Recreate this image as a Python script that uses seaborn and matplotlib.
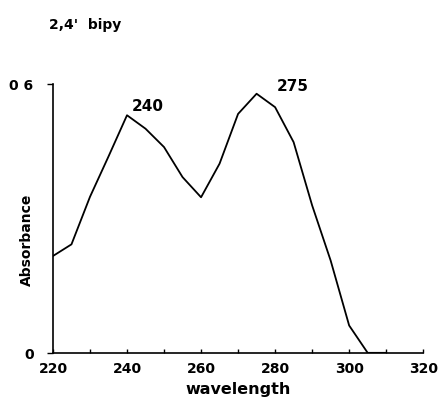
import matplotlib
matplotlib.use("Agg")
import matplotlib.pyplot as plt
import seaborn as sns
import pandas as pd

wavelength = [220, 225, 230, 235, 240, 245, 250, 255, 260, 265, 270, 275,
              280, 285, 290, 295, 300, 305, 310]
absorbance = [0.216, 0.242, 0.348, 0.438, 0.530, 0.500, 0.459, 0.392, 0.347,
              0.422, 0.533, 0.578, 0.548, 0.470, 0.329, 0.206, 0.061, 0.0, 0.0]
x_ticks = [220, 240, 260, 280, 300, 320]
x_minor = [230, 250, 270, 290, 310]
y_ticks = [0, 0.6]
y_ticklabels = ["0", "0 6"]
peak_labels = ["240", "275"]
peak_pos = [(245.7, 0.551), (284.9, 0.596)]

sns.set_theme(style="white")
plt.rcParams['font.family'] = ['DejaVu Sans']
plt.rcParams['font.weight'] = 'bold'
plt.rcParams['text.color'] = 'black'
plt.rcParams['axes.labelcolor'] = 'black'
plt.rcParams['xtick.color'] = 'black'
plt.rcParams['ytick.color'] = 'black'

df = pd.DataFrame({"wavelength": wavelength, "Absorbance": absorbance})

fig = plt.figure(figsize=(4.45, 4.10), dpi=100)
ax = fig.add_axes([0.119, 0.137, 0.832, 0.656])
sns.lineplot(data=df, x="wavelength", y="Absorbance", ax=ax, color="black",
             linewidth=1.3)

ax.set_xlim(220, 320)
ax.set_ylim(0, 0.6)
for s in ["top", "right"]:
    ax.spines[s].set_visible(False)
for s in ["left", "bottom"]:
    ax.spines[s].set_color("black")
    ax.spines[s].set_linewidth(1.2)

ax.set_xticks(x_ticks)
ax.set_xticklabels([str(t) for t in x_ticks], fontsize=10, fontweight='bold')
ax.set_xticks(x_minor, minor=True)
ax.tick_params(axis='x', which='both', direction='in', length=3, width=1,
               color='black', bottom=True, pad=6)
ax.set_yticks(y_ticks)
ax.set_yticklabels(y_ticklabels, fontsize=10, fontweight='bold')
ax.tick_params(axis='y', direction='out', length=4, width=1, color='black',
               left=True, pad=10)

ax.set_xlabel("wavelength", fontsize=11.5, fontweight='bold', labelpad=4)
ax.set_ylabel("Absorbance", fontsize=10, fontweight='bold')
ax.yaxis.set_label_coords(-0.052, 0.424)

for lab, (px, py) in zip(peak_labels, peak_pos):
    ax.text(px, py, lab, ha='center', va='center', fontsize=11,
            fontweight='bold', clip_on=False)

fig.text(0.110, 0.938, "2,4'  bipy", fontsize=10, fontweight='bold',
         ha='left', va='center')

fig.savefig("out.png", dpi=100, facecolor="white")
